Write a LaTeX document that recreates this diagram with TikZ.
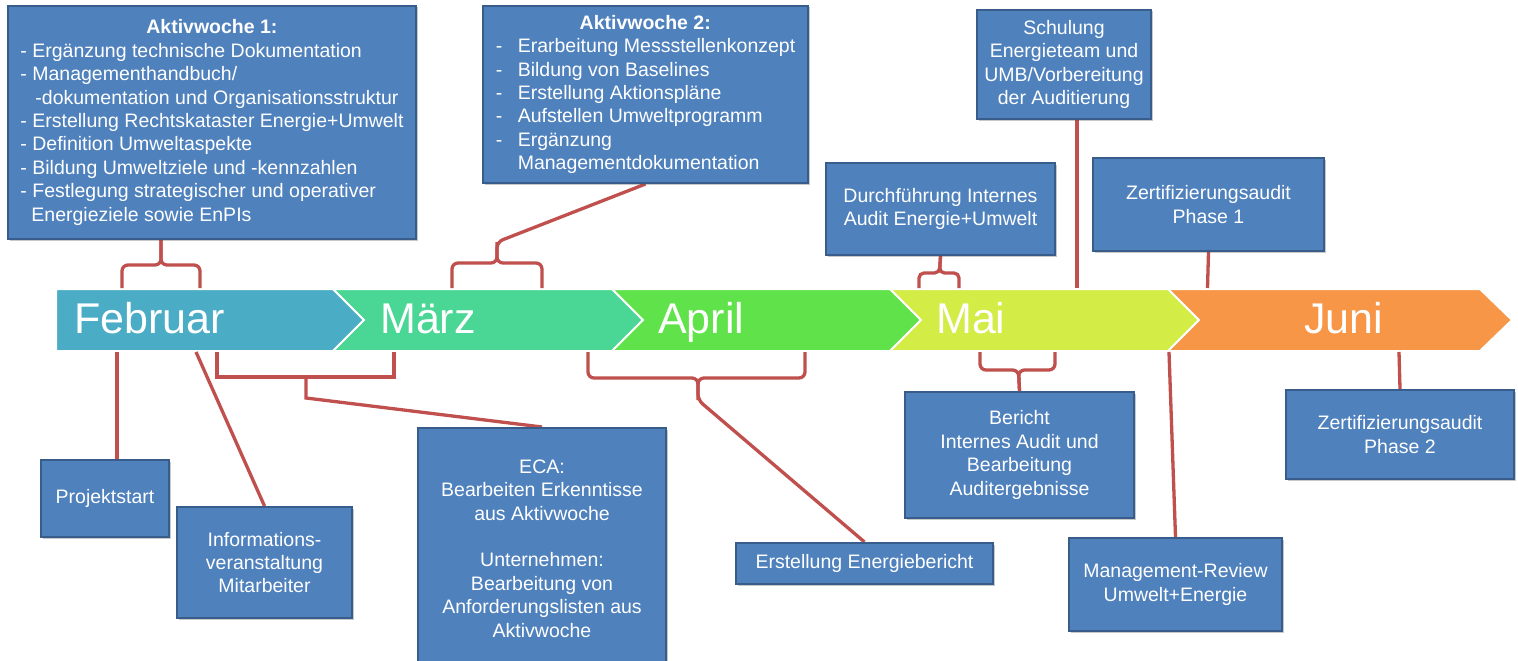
\documentclass[tikz,border=0pt]{standalone}
\usepackage{fontspec}
\setmainfont{Liberation Sans}
\usetikzlibrary{shadows}
\definecolor{boxfill}{RGB}{79,129,189}
\definecolor{boxline}{RGB}{56,93,138}
\definecolor{connred}{RGB}{192,80,77}
\definecolor{cfeb}{RGB}{75,172,198}
\definecolor{cmar}{RGB}{74,214,148}
\definecolor{capr}{RGB}{96,227,74}
\definecolor{cmai}{RGB}{212,236,70}
\definecolor{cjun}{RGB}{247,150,70}
\pgfdeclarelayer{bg}
\pgfsetlayers{bg,main}
\begin{document}
\begin{tikzpicture}[x=1pt,y=-1pt,
  box/.style={draw=boxline, line width=2pt, fill=boxfill, text=white, align=center,
    font=\fontsize{19.5}{23.4}\selectfont, inner sep=0pt, anchor=north west,
    drop shadow={shadow xshift=1.5pt, shadow yshift=-1.5pt, opacity=0.3, fill=black!70}},
  conn/.style={draw=connred, line width=3.3pt},
  month/.style={text=white, font=\fontsize{43}{50}\selectfont, anchor=base west, inner sep=0pt},
  chev/.style={draw=white, line width=2pt, line join=miter}]
\useasboundingbox (0,0) rectangle (1518,661);

% ---------- boxes ----------
\node[box, align=left, minimum width=408pt, minimum height=233pt] (a1) at (7,5)
 {\makebox[383pt]{\bfseries Aktivwoche 1:}\\
  - Ergänzung technische Dokumentation\\
  - Managementhandbuch/\\
  \hspace*{15pt}-dokumentation und Organisationsstruktur\\
  - Erstellung Rechtskataster Energie+Umwelt\\
  - Definition Umweltaspekte\\
  - Bildung Umweltziele und -kennzahlen\\
  - Festlegung strategischer und operativer\\
  \hspace*{11pt}Energieziele sowie EnPIs};

\node[box, align=left, minimum width=325pt, minimum height=177pt] (a2) at (482,5)
 {\makebox[299pt]{\bfseries Aktivwoche 2:}\\
  \makebox[22pt][l]{-}Erarbeitung Messstellenkonzept\\
  \makebox[22pt][l]{-}Bildung von Baselines\\
  \makebox[22pt][l]{-}Erstellung Aktionspläne\\
  \makebox[22pt][l]{-}Aufstellen Umweltprogramm\\
  \makebox[22pt][l]{-}Ergänzung\\
  \hspace*{22pt}Managementdokumentation};

\node[box, minimum width=174pt, minimum height=109pt] (schulung) at (976,9)
 {Schulung\\Energieteam und\\UMB/Vorbereitung\\der Auditierung};
\node[box, minimum width=229pt, minimum height=92pt] (durch) at (825,162)
 {Durchführung Internes\\Audit Energie+Umwelt};
\node[box, minimum width=231pt, minimum height=93pt] (zert1) at (1092,157)
 {Zertifizierungsaudit\\Phase 1};

\node[box, minimum width=128pt, minimum height=77pt] (projekt) at (40,459)
 {Projektstart};
\node[box, minimum width=175pt, minimum height=111pt] (info) at (176,506)
 {Informations-\\veranstaltung\\Mitarbeiter};
\node[box, minimum width=248pt, minimum height=241pt] (eca) at (417,427)
 {ECA:\\Bearbeiten Erkenntisse\\aus Aktivwoche\\[23.4pt]Unternehmen:\\Bearbeitung von\\Anforderungslisten aus\\Aktivwoche};
\node[box, minimum width=257pt, minimum height=41pt] (energie) at (735,542)
 {Erstellung Energiebericht};
\node[box, minimum width=229pt, minimum height=126pt] (bericht) at (904,391)
 {Bericht\\Internes Audit und\\Bearbeitung\\Auditergebnisse};
\node[box, minimum width=213pt, minimum height=93pt] (review) at (1068,537)
 {Management-Review\\Umwelt+Energie};
\node[box, minimum width=228pt, minimum height=89pt] (zert2) at (1285,389)
 {Zertifizierungsaudit\\Phase 2};

% ---------- coordinates ----------
\coordinate (a1l) at (122,288);
\coordinate (a1r) at (200,288);
\coordinate (a1m) at (161,265);
\coordinate (a2l) at (452,288);
\coordinate (a2r) at (542,288);
\coordinate (a2m) at (497,263);
\coordinate (a2t) at (497,242);
\coordinate (dul) at (919,288);
\coordinate (dur) at (959,288);
\coordinate (dum) at (939.5,273);
\coordinate (sch) at (1077,288);
\coordinate (z1) at (1207.5,288);
\coordinate (pj) at (117,352);
\coordinate (inf) at (196,352);
\coordinate (ecal) at (217,352);
\coordinate (ecar) at (394,352);
\coordinate (ecam) at (306,377);
\coordinate (ecat) at (306,398);
\coordinate (aprl) at (588,352);
\coordinate (aprr) at (805,352);
\coordinate (aprm) at (698,378);
\coordinate (aprt) at (698,400);
\coordinate (mail) at (980,352);
\coordinate (mair) at (1055,352);
\coordinate (maim) at (1018.5,370);
\coordinate (rv) at (1169,352);
\coordinate (z2) at (1399,352);

\begin{pgfonlayer}{bg}
\fill[white] (0,0) rectangle (1518,661);
% ---------- chevrons ----------
\filldraw[fill=cfeb, chev] (56,289) -- (333,289) -- (364,320) -- (333,351) -- (56,351) -- cycle;
\filldraw[fill=cmar, chev] (333,289) -- (612,289) -- (643,320) -- (612,351) -- (333,351) -- (364,320) -- cycle;
\filldraw[fill=capr, chev] (612,289) -- (890,289) -- (921,320) -- (890,351) -- (612,351) -- (643,320) -- cycle;
\filldraw[fill=cmai, chev] (890,289) -- (1168,289) -- (1199,320) -- (1168,351) -- (890,351) -- (921,320) -- cycle;
\filldraw[fill=cjun, chev] (1168,289) -- (1480,289) -- (1512,320) -- (1480,351) -- (1168,351) -- (1199,320) -- cycle;

% ---------- connectors above ----------
\draw[conn, rounded corners=6pt] (a1l) |- (a1m) -- (a1.south -| a1m);
\draw[conn, rounded corners=6pt] (a1r) |- (a1m) -- (a1.south -| a1m);
\draw[conn, rounded corners=6pt] (a2l) |- (a2m) -- (a2t) -- (a2.south);
\draw[conn, rounded corners=6pt] (a2r) |- (a2m) -- (a2t);
\draw[conn, rounded corners=5pt] (dul) |- (dum) -- (durch.south);
\draw[conn, rounded corners=5pt] (dur) |- (dum) -- (durch.south);
\draw[conn] (schulung.south -| sch) -- (sch);
\draw[conn] (zert1.south) -- (z1);

% ---------- connectors below ----------
\draw[conn] (pj) -- (projekt.north -| pj);
\draw[conn] (inf) -- (info.north);
\draw[conn] (ecal) |- (ecam) -| (ecar);
\draw[conn] (ecam) -- (ecat) -- (eca.north);
\draw[conn, rounded corners=6pt] (aprl) |- (aprm) -- (aprt) -- (energie.north);
\draw[conn, rounded corners=6pt] (aprr) |- (aprm) -- (aprt);
\draw[conn, rounded corners=6pt] (mail) |- (maim) -- (bericht.north);
\draw[conn, rounded corners=6pt] (mair) |- (maim) -- (bericht.north);
\draw[conn] (rv) -- (review.north);
\draw[conn] (z2) -- (zert2.north);
\end{pgfonlayer}

% ---------- month labels ----------
\node[month] (feb) at (74,333) {Februar};
\node[month] (mar) at (380,333) {März};
\node[month] (apr) at (658,333) {April};
\node[month] (mai) at (936,333) {Mai};
\node[month] (jun) at (1304,333) {Juni};
\end{tikzpicture}
\end{document}
